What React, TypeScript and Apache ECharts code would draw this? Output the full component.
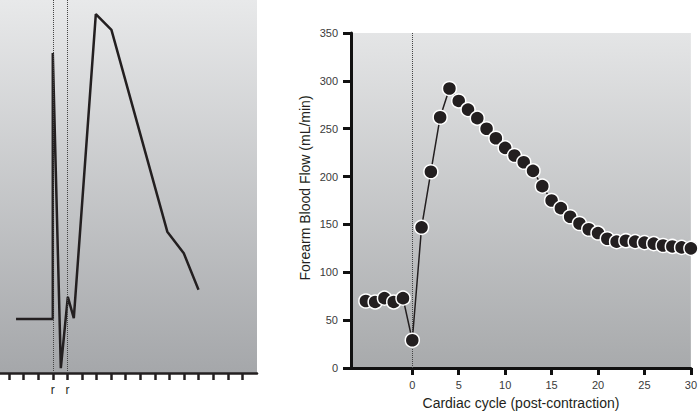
import React, { useEffect, useRef } from "react";
import * as echarts from "echarts";

// Left panel: schematic trace (arbitrary units), x in tick units
const traceX = [0.48, 3.0, 3.0, 3.55, 4.03, 4.44, 5.95, 7.02, 10.85, 11.98, 12.99];
const traceY = [14.5, 14.5, 85.8, 1.3, 20.4, 14.7, 96.2, 92.0, 37.9, 32.1, 22.3];
const traceTicks = [0, 1, 2, 3, 4, 5, 6, 7, 8, 9, 10, 11, 12, 13, 14, 15, 16];
const rMarks = [3, 4];

// Right panel: forearm blood flow per cardiac cycle
const cycles = [-5, -4, -3, -2, -1, 0, 1, 2, 3, 4, 5, 6, 7, 8, 9, 10, 11, 12, 13, 14, 15, 16, 17, 18, 19, 20, 21, 22, 23, 24, 25, 26, 27, 28, 29, 30];
const flow = [70, 69, 73, 69, 73, 29, 147, 205, 262, 292, 279, 270, 261, 250, 240, 230, 222, 215, 206, 190, 175, 167, 158, 151, 145, 141, 135, 132, 133, 132, 131, 130, 128, 127, 126, 125];
const xTickValues = [0, 5, 10, 15, 20, 25, 30];

const grad = (top: string, bottom: string) =>
  new echarts.graphic.LinearGradient(0, 0, 0, 1, [
    { offset: 0, color: top },
    { offset: 1, color: bottom },
  ]);

export default function App() {
  const ref = useRef<HTMLDivElement>(null);
  useEffect(() => {
    if (!ref.current) return;
    const chart = echarts.init(ref.current, null, { renderer: "svg" });
    const font = "Liberation Sans, Arial, sans-serif";
    chart.setOption({
      animation: false,
      backgroundColor: "#ffffff",
      textStyle: { fontFamily: font },
      grid: [
        { left: 0, top: 0, width: 257, height: 373, show: true, borderWidth: 0, backgroundColor: grad("#e8e9ea", "#a5a7aa") },
        { left: 351, top: 33, width: 343, height: 340, show: true, borderWidth: 0, backgroundColor: grad("#e4e5e6", "#a8aaac") },
      ],
      xAxis: [
        {
          gridIndex: 0,
          type: "value",
          min: -0.62,
          max: 17,
          splitLine: { show: false },
          axisLine: { show: true, onZero: false, lineStyle: { color: "#231f20", width: 2.5 } },
          axisTick: { show: true, customValues: traceTicks, length: 7, lineStyle: { color: "#231f20", width: 2.5 } },
          axisLabel: {
            customValues: rMarks,
            formatter: () => "r",
            margin: 11,
            fontSize: 12,
            color: "#231f20",
            fontFamily: font,
          },
        },
        {
          gridIndex: 1,
          type: "value",
          min: -6.6,
          max: 30,
          splitLine: { show: false },
          axisLine: { show: true, onZero: false, lineStyle: { color: "#111111", width: 3 } },
          axisTick: { show: true, customValues: xTickValues, length: 7, lineStyle: { color: "#111111", width: 3 } },
          axisLabel: { customValues: xTickValues, margin: 11, fontSize: 11, color: "#3a3a3a", fontFamily: font },
          name: "Cardiac cycle (post-contraction)",
          nameLocation: "middle",
          nameGap: 28,
          nameTextStyle: { fontSize: 14, color: "#231f20", fontFamily: font },
        },
      ],
      yAxis: [
        {
          gridIndex: 0,
          type: "value",
          min: 0,
          max: 100,
          show: false,
        },
        {
          gridIndex: 1,
          type: "value",
          min: 0,
          max: 350,
          interval: 50,
          splitLine: { show: false },
          axisLine: { show: true, onZero: false, lineStyle: { color: "#111111", width: 3 } },
          axisTick: { show: true, length: 8, lineStyle: { color: "#111111", width: 3 } },
          axisLabel: { margin: 13, fontSize: 11, color: "#3a3a3a", fontFamily: font },
        },
      ],
      graphic: [
        {
          type: "text",
          x: 305,
          y: 188,
          rotation: Math.PI / 2,
          style: {
            text: "Forearm Blood Flow (mL/min)",
            fontSize: 14,
            fill: "#231f20",
            fontFamily: font,
            align: "center",
            verticalAlign: "middle",
          },
        },
      ],
      series: [
        {
          type: "line",
          xAxisIndex: 0,
          yAxisIndex: 0,
          data: traceX.map((x, i) => [x, traceY[i]]),
          symbol: "none",
          lineStyle: { color: "#231f20", width: 2.5 },
          markLine: {
            silent: true,
            symbol: "none",
            label: { show: false },
            lineStyle: { type: "dotted", color: "#444", width: 1 },
            data: rMarks.map((v) => ({ xAxis: v })),
          },
          z: 3,
        },
        {
          type: "line",
          xAxisIndex: 1,
          yAxisIndex: 1,
          data: cycles.map((c, i) => [c, flow[i]]),
          symbol: "circle",
          symbolSize: 14,
          itemStyle: { color: "#231f20", borderColor: "#ffffff", borderWidth: 1.5 },
          lineStyle: { color: "#231f20", width: 1.5 },
          markLine: {
            silent: true,
            symbol: "none",
            label: { show: false },
            lineStyle: { type: "dotted", color: "#444", width: 1 },
            data: [{ xAxis: 0 }],
            z: 1,
          },
          z: 3,
        },
      ],
    });
    return () => chart.dispose();
  }, []);
  return <div ref={ref} style={{ position: "absolute", left: 0, top: 0, width: 700, height: 415 }} />;
}
